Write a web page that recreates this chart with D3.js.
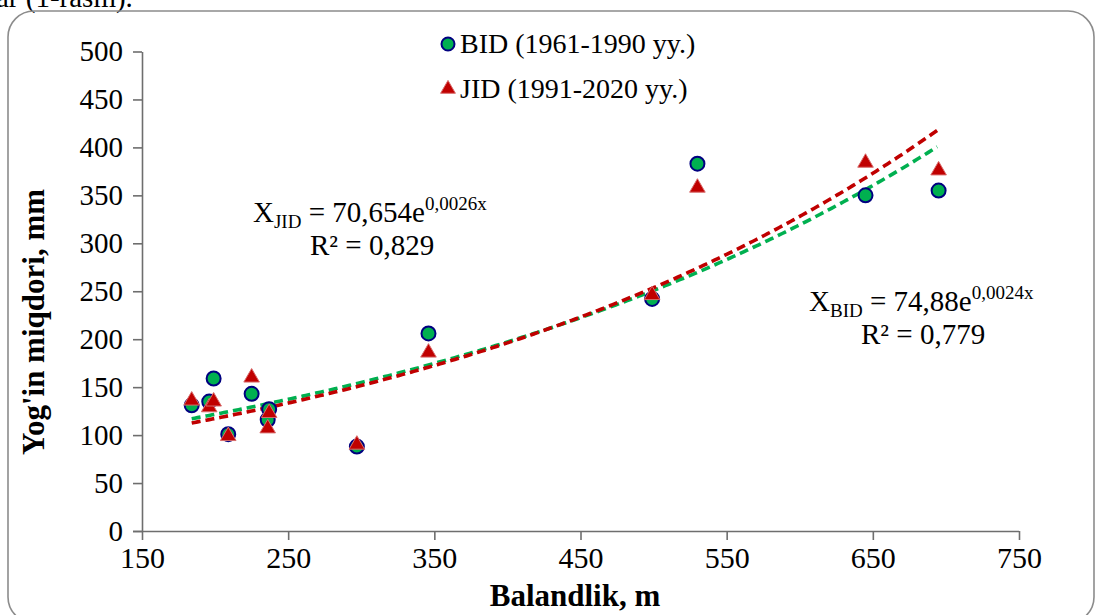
<!DOCTYPE html>
<html>
<head>
<meta charset="utf-8">
<script src="https://cdn.jsdelivr.net/npm/d3@7"></script>
<style>
  body { margin: 0; background: #fff; }
  svg { display: block; font-family: "Liberation Serif", "Times New Roman", serif; }
</style>
</head>
<body>
<div id="chart"></div>
<script>
// station heights (m) and precipitation (mm)
var heights = [184, 196, 199, 209, 225, 237, 236, 297, 346, 499, 530, 645, 695];
var bidValues = [131, 135, 159, 101, 143, 127, 116, 88, 206, 242, 383, 350, 355];
var jidValues = [136, 129, 135, 99, 160, 123, 107, 90, 186, 246, 358, 384, 376];
var xTicks = [150, 250, 350, 450, 550, 650, 750];
var yTicks = [0, 50, 100, 150, 200, 250, 300, 350, 400, 450, 500];

var width = 1097, height = 615;
var margin = { top: 51.5, left: 142, right: 78, bottom: 84 };

var svg = d3.select("#chart").append("svg")
  .attr("width", width)
  .attr("height", height);

// cut off caption line above the frame
svg.append("text")
  .attr("x", -4)
  .attr("y", 7)
  .style("font-size", "29px")
  .text("ar (1-rasm).");

// rounded frame
svg.append("rect")
  .attr("x", 8).attr("y", 11)
  .attr("width", 1086).attr("height", 612)
  .attr("rx", 26).attr("ry", 26)
  .style("fill", "none")
  .style("stroke", "#8c8c8c")
  .style("stroke-width", 1.6);

var x = d3.scaleLinear().domain([150, 750]).range([margin.left, width - margin.right]);
var y = d3.scaleLinear().domain([0, 500]).range([height - margin.bottom, margin.top]);

// axes
var xAxis = svg.append("g")
  .attr("transform", "translate(0," + y(0) + ")")
  .call(d3.axisBottom(x).tickValues(xTicks).tickSize(9).tickSizeOuter(0));
xAxis.select(".domain").attr("d", "M" + (x(150) - 9) + ",0.5H" + x(750));

var yAxis = svg.append("g")
  .attr("transform", "translate(" + x(150) + ",0)")
  .call(d3.axisLeft(y).tickValues(yTicks).tickSize(9).tickSizeOuter(0));

svg.selectAll(".domain, .tick line")
  .style("stroke", "#6e6e6e")
  .style("stroke-width", 1.6);

xAxis.selectAll(".tick text")
  .attr("y", 16)
  .attr("dy", "0.71em")
  .style("font-family", "Liberation Serif, serif")
  .style("font-size", "30px")
  .style("fill", "#000");

yAxis.selectAll(".tick text")
  .attr("x", -19)
  .style("font-family", "Liberation Serif, serif")
  .style("font-size", "29px")
  .style("fill", "#000");

// axis titles
svg.append("text")
  .attr("x", 575)
  .attr("y", 606)
  .attr("text-anchor", "middle")
  .style("font-size", "31px")
  .style("font-weight", "bold")
  .text("Balandlik, m");

svg.append("text")
  .attr("transform", "translate(44,322) rotate(-90)")
  .attr("text-anchor", "middle")
  .style("font-size", "31px")
  .style("font-weight", "bold")
  .text("Yog'in miqdori, mm");

// exponential trend (least squares on ln y, like Excel)
function expFit(xs, ys) {
  var n = xs.length;
  var lx = d3.mean(xs);
  var ly = d3.mean(ys, function (v) { return Math.log(v); });
  var sxy = 0, sxx = 0;
  for (var i = 0; i < n; i++) {
    sxy += (xs[i] - lx) * (Math.log(ys[i]) - ly);
    sxx += (xs[i] - lx) * (xs[i] - lx);
  }
  var b = sxy / sxx;
  var a = Math.exp(ly - b * lx);
  return function (v) { return a * Math.exp(b * v); };
}

var fitBid = expFit(heights, bidValues);
var fitJid = expFit(heights, jidValues);
var xs = d3.range(d3.min(heights), d3.max(heights) + 0.1, 2);

var line = function (f) {
  return d3.line()
    .x(function (d) { return x(d); })
    .y(function (d) { return y(f(d)); });
};

svg.append("path")
  .datum(xs)
  .attr("d", line(fitBid))
  .style("fill", "none")
  .style("stroke", "#00b050")
  .style("stroke-width", 3.6)
  .style("stroke-dasharray", "9,5");

svg.append("path")
  .datum(xs)
  .attr("d", line(fitJid))
  .style("fill", "none")
  .style("stroke", "#c00000")
  .style("stroke-width", 3.6)
  .style("stroke-dasharray", "9,5");

// points
var tri = d3.symbol().type(d3.symbolTriangle).size(105);

svg.selectAll("circle.bid")
  .data(heights)
  .enter()
  .append("circle")
  .attr("class", "bid")
  .attr("cx", function (d) { return x(d); })
  .attr("cy", function (d, i) { return y(bidValues[i]); })
  .attr("r", 7)
  .style("fill", "#00b050")
  .style("stroke", "#000080")
  .style("stroke-width", 2);

svg.selectAll("path.jid")
  .data(heights)
  .enter()
  .append("path")
  .attr("class", "jid")
  .attr("d", tri)
  .attr("transform", function (d, i) { return "translate(" + x(d) + "," + y(jidValues[i]) + ")"; })
  .style("fill", "#c00000")
  .style("stroke", "#d86a6a")
  .style("stroke-width", 1);

// legend
svg.append("circle")
  .attr("cx", 448).attr("cy", 44).attr("r", 6.5)
  .style("fill", "#00b050")
  .style("stroke", "#000080")
  .style("stroke-width", 2);
svg.append("text")
  .attr("x", 460).attr("y", 53)
  .style("font-size", "28px")
  .text("BID (1961-1990 yy.)");

svg.append("path")
  .attr("d", d3.symbol().type(d3.symbolTriangle).size(95))
  .attr("transform", "translate(448,89)")
  .style("fill", "#c00000")
  .style("stroke", "#d86a6a")
  .style("stroke-width", 1);
svg.append("text")
  .attr("x", 460).attr("y", 98)
  .style("font-size", "28px")
  .text("JID (1991-2020 yy.)");

// trend equations
function equation(x0, y0, sub, coef, power, r2x, r2) {
  var t = svg.append("text")
    .attr("x", x0).attr("y", y0)
    .style("font-size", "29px");
  t.append("tspan").text("X");
  t.append("tspan").attr("dy", 6).style("font-size", "19px").text(sub);
  t.append("tspan").attr("dy", -6).text(" = " + coef + "e");
  t.append("tspan").attr("dy", -12).style("font-size", "19px").text(power);

  svg.append("text")
    .attr("x", r2x).attr("y", y0 + 33)
    .style("font-size", "29px")
    .text("R² = " + r2);
}

equation(253, 222, "JID", "70,654", "0,0026x", 310, "0,829");
equation(809, 311, "BID", "74,88", "0,0024x", 861, "0,779");
</script>
</body>
</html>
